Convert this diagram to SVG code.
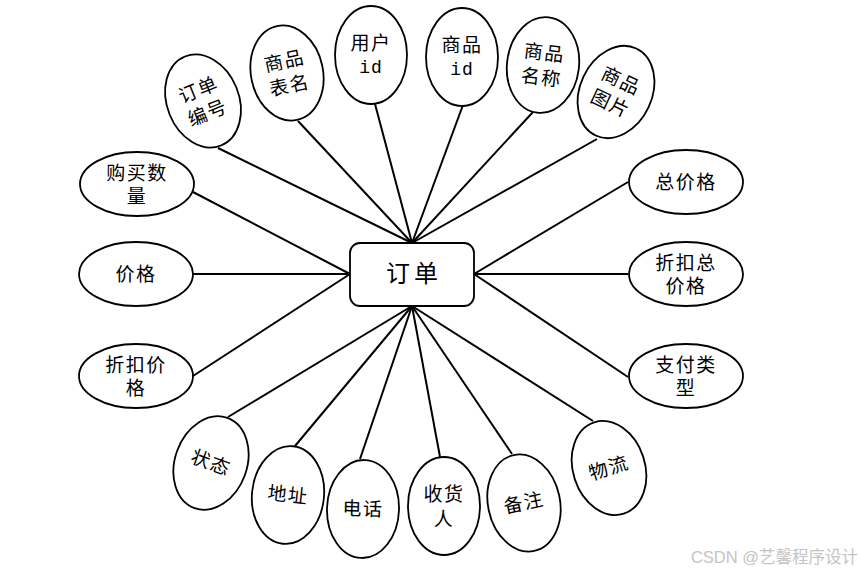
<svg xmlns="http://www.w3.org/2000/svg" width="861" height="573" viewBox="0 0 861 573">
<style>
.e{fill:#fff;stroke:#000;stroke-width:1.8}
.t{font-family:"Liberation Serif","Noto Sans CJK SC",serif;font-size:19px;letter-spacing:1.5px;fill:#000;text-anchor:middle;dominant-baseline:central}
.m{font-family:"Liberation Mono","Noto Sans CJK SC",monospace;font-size:18px;letter-spacing:1px;fill:#000;text-anchor:middle;dominant-baseline:central}
.c line{stroke:#000;stroke-width:2}
</style>
<rect width="861" height="573" fill="#fff"/>
<g class="c" id="connectors">
<line x1="218" y1="148" x2="412" y2="243"/>
<line x1="298" y1="121" x2="412" y2="243"/>
<line x1="375" y1="104" x2="412" y2="243"/>
<line x1="463" y1="105" x2="412" y2="243"/>
<line x1="533" y1="112" x2="412" y2="243"/>
<line x1="597" y1="139" x2="412" y2="243"/>
<line x1="193" y1="192" x2="350" y2="274"/>
<line x1="193" y1="274" x2="350" y2="274"/>
<line x1="193" y1="376" x2="350" y2="274"/>
<line x1="628" y1="182" x2="474" y2="274"/>
<line x1="628" y1="274" x2="474" y2="274"/>
<line x1="628" y1="377" x2="474" y2="274"/>
<line x1="228" y1="417" x2="412" y2="306"/>
<line x1="295" y1="446" x2="412" y2="306"/>
<line x1="360" y1="459" x2="412" y2="306"/>
<line x1="440" y1="457" x2="412" y2="306"/>
<line x1="512" y1="454" x2="412" y2="306"/>
<line x1="593" y1="421" x2="412" y2="306"/>
</g>
<g id="order">
<rect x="350" y="243" width="124" height="63" rx="10" fill="#fff" stroke="#000" stroke-width="1.8"/>
<text x="414" y="274" class="t" style="font-size:24px;letter-spacing:4px">订单</text>
</g>
<g id="n_ddbh" transform="translate(203,101) rotate(-22)">
<ellipse class="e" rx="36" ry="48"/>
<text class="t" y="-12">订单</text><text class="t" y="13">编号</text>
</g>
<g id="n_spbm" transform="translate(287,73) rotate(-12)">
<ellipse class="e" rx="36" ry="48"/>
<text class="t" y="-12">商品</text><text class="t" y="13">表名</text>
</g>
<g id="n_yhid" transform="translate(371,55)">
<ellipse class="e" rx="36" ry="49"/>
<text class="t" y="-12">用户</text><text class="m" y="13">id</text>
</g>
<g id="n_spid" transform="translate(462,57)">
<ellipse class="e" rx="36" ry="49"/>
<text class="t" y="-12">商品</text><text class="m" y="13">id</text>
</g>
<g id="n_spmc" transform="translate(543,65) rotate(7)">
<ellipse class="e" rx="36" ry="48"/>
<text class="t" y="-12">商品</text><text class="t" y="13">名称</text>
</g>
<g id="n_sptp" transform="translate(616,92) rotate(25)">
<ellipse class="e" rx="36" ry="48"/>
<text class="t" y="-12">商品</text><text class="t" y="13">图片</text>
</g>
<g id="n_gmsl" transform="translate(137,184)">
<ellipse class="e" rx="57" ry="32"/>
<text class="t" y="-11">购买数</text><text class="t" y="12">量</text>
</g>
<g id="n_jg" transform="translate(136,274)">
<ellipse class="e" rx="57" ry="32"/>
<text class="t" y="0">价格</text>
</g>
<g id="n_zkjg" transform="translate(136,376)">
<ellipse class="e" rx="57" ry="32"/>
<text class="t" y="-11">折扣价</text><text class="t" y="12">格</text>
</g>
<g id="n_zjg" transform="translate(686,182)">
<ellipse class="e" rx="57" ry="32"/>
<text class="t" y="0">总价格</text>
</g>
<g id="n_zkzjg" transform="translate(686,274)">
<ellipse class="e" rx="57" ry="32"/>
<text class="t" y="-11">折扣总</text><text class="t" y="12">价格</text>
</g>
<g id="n_zflx" transform="translate(686,376)">
<ellipse class="e" rx="57" ry="32"/>
<text class="t" y="-11">支付类</text><text class="t" y="12">型</text>
</g>
<g id="n_zt" transform="translate(211,463) rotate(20)">
<ellipse class="e" rx="36" ry="48"/>
<text class="t" y="0">状态</text>
</g>
<g id="n_dz" transform="translate(288,495) rotate(6)">
<ellipse class="e" rx="36" ry="49"/>
<text class="t" y="0">地址</text>
</g>
<g id="n_dh" transform="translate(363,509) rotate(2)">
<ellipse class="e" rx="36" ry="49"/>
<text class="t" y="0">电话</text>
</g>
<g id="n_shr" transform="translate(444,506)">
<ellipse class="e" rx="36" ry="49"/>
<text class="t" y="-12">收货</text><text class="t" y="13">人</text>
</g>
<g id="n_bz" transform="translate(524,503) rotate(-12)">
<ellipse class="e" rx="36" ry="49"/>
<text class="t" y="0">备注</text>
</g>
<g id="n_wl" transform="translate(609,468) rotate(-18)">
<ellipse class="e" rx="36" ry="48"/>
<text class="t" y="0">物流</text>
</g>
<text x="858" y="557" style="font-family:'Liberation Sans','Noto Sans CJK SC',sans-serif;font-size:16.5px;fill:#c4c4c4;text-anchor:end;dominant-baseline:central">CSDN @艺馨程序设计</text>
</svg>
